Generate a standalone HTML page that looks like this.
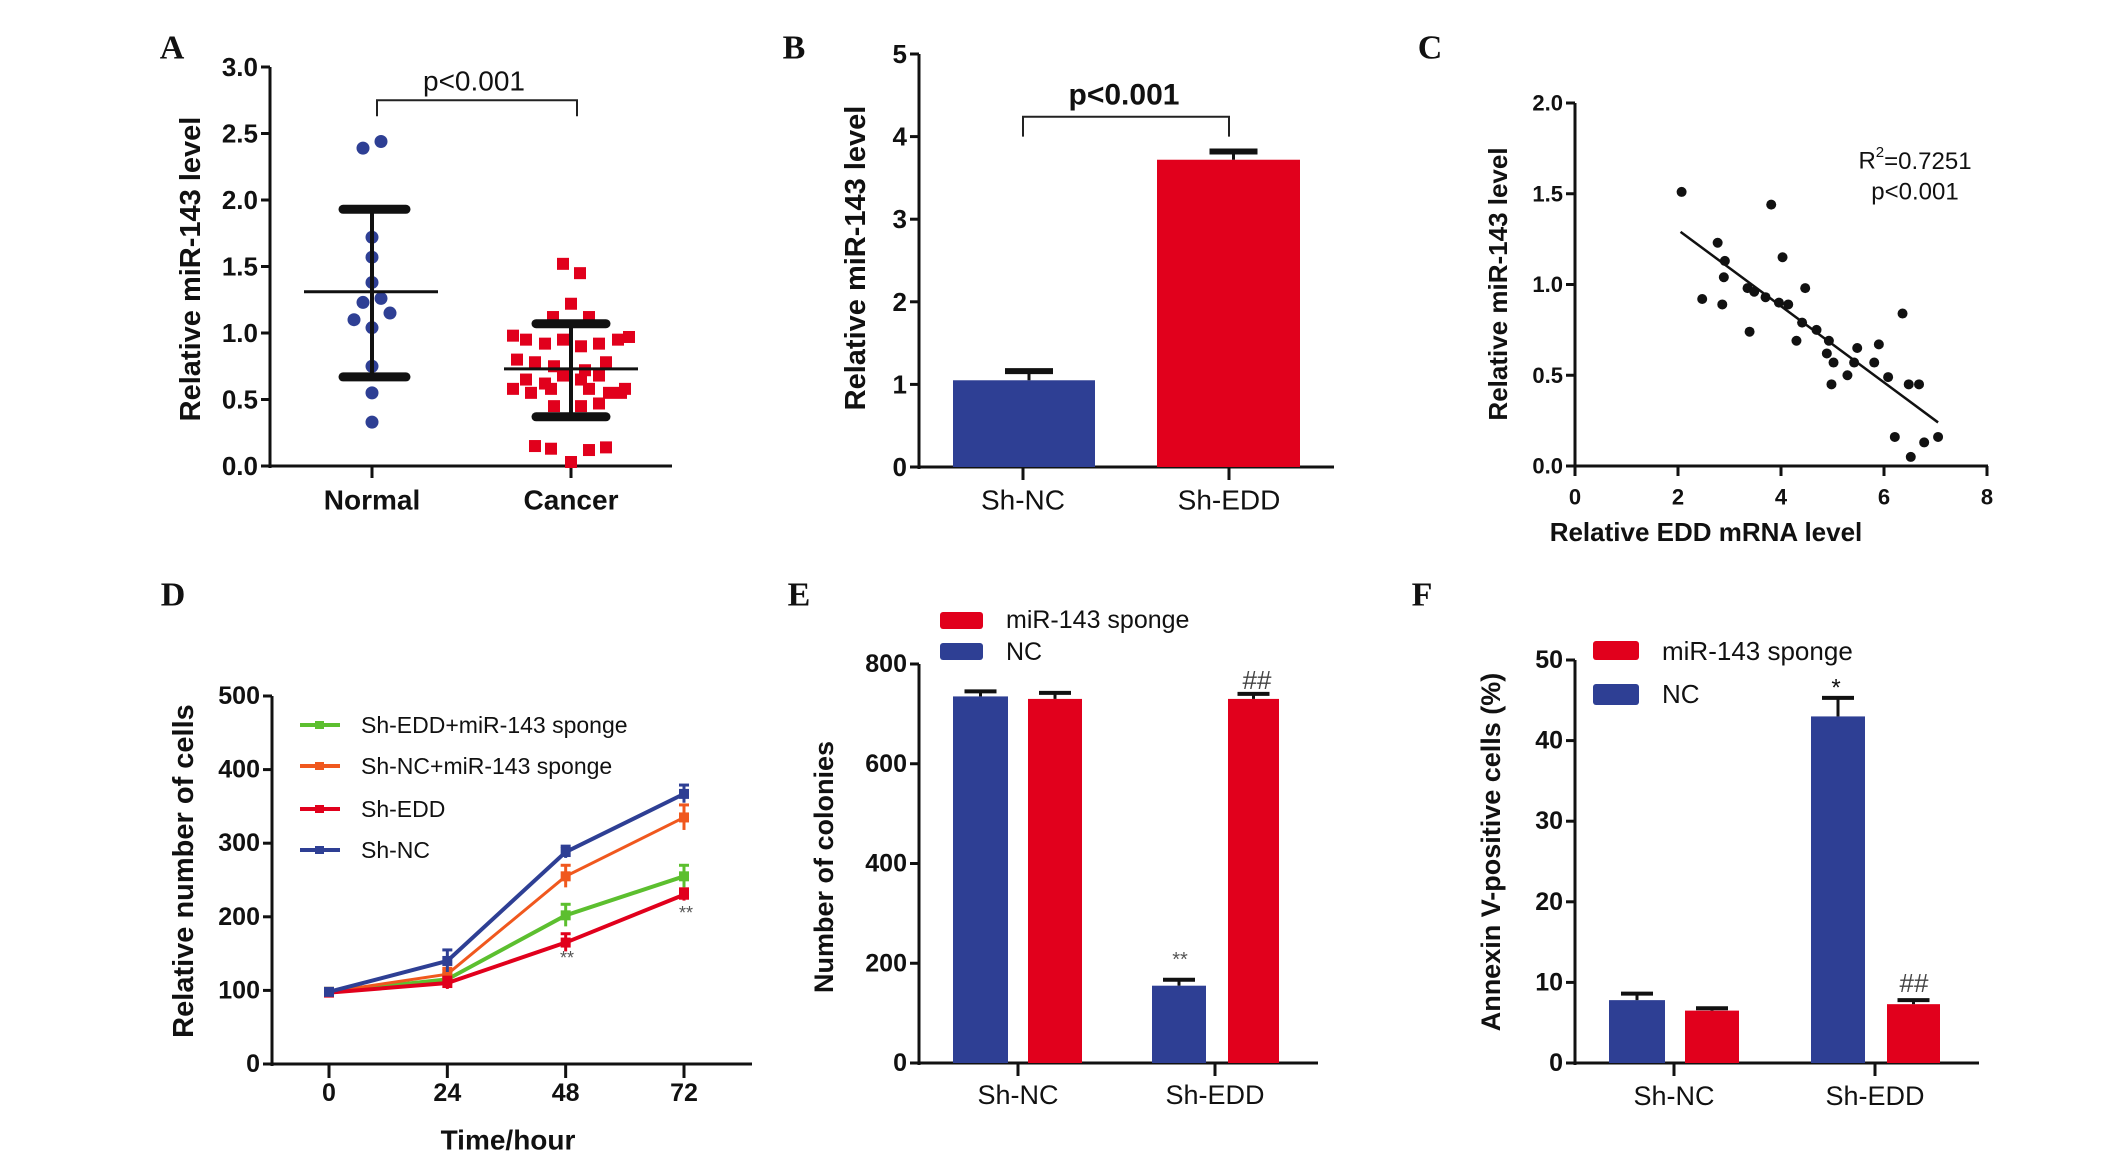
<!DOCTYPE html>
<html><head><meta charset="utf-8"><style>
html,body{margin:0;padding:0;background:#fff;}
svg{display:block;font-family:"Liberation Sans",sans-serif;}
</style></head><body>
<svg id="fig" width="2126" height="1167" viewBox="0 0 2126 1167"></svg>
<script>
// ---------- Panel A data ----------
const aNormal = [2.39,2.44,1.72,1.57,1.38,1.23,1.26,1.10,1.15,1.04,0.75,0.55,0.33];
const aNormalJit = [-9,9,0,0,0,-9,9,-18,18,0,0,0,0];
const aCancer = [1.52,1.45,1.22,1.12,1.12,0.98,0.95,0.92,0.95,0.90,0.92,0.95,0.97,0.80,0.78,0.75,0.72,0.78,0.65,0.62,0.68,0.65,0.68,0.58,0.55,0.58,0.58,0.55,0.58,0.45,0.45,0.47,0.15,0.13,0.03,0.12,0.14,0.55];
const aCancerJit = [-8,9,0,-18,18,-58,-45,-26,-8,10,28,47,58,-54,-36,-17,14,35,-45,-26,-8,10,28,-58,-40,-20,18,38,54,-17,10,28,-36,-20,0,18,35,50];
const aStats = {normal:[1.31,0.67,1.93], cancer:[0.73,0.37,1.07]};
const aTicks = ["0.0","0.5","1.0","1.5","2.0","2.5","3.0"];
// ---------- Panel B data ----------
const bCats = ["Sh-NC","Sh-EDD"];
const bVals = [1.05,3.72];
const bErr = [0.11,0.1];
const bTicks = ["0","1","2","3","4","5"];
// ---------- Panel C data ----------
const cX = [2.07,2.77,2.91,2.89,2.47,2.86,3.39,3.81,4.03,4.47,3.35,3.48,3.70,3.96,4.14,4.41,4.30,4.69,4.93,4.89,5.02,4.98,5.29,5.42,5.48,5.81,5.90,6.08,6.36,6.48,6.68,6.21,6.52,6.78,7.05];
const cY = [1.51,1.23,1.13,1.04,0.92,0.89,0.74,1.44,1.15,0.98,0.98,0.96,0.93,0.90,0.89,0.79,0.69,0.75,0.69,0.62,0.57,0.45,0.50,0.57,0.65,0.57,0.67,0.49,0.84,0.45,0.45,0.16,0.05,0.13,0.16];
const cFitX = [2.05,7.05];
const cFitY = [1.29,0.24];
const cYTicks = ["0.0","0.5","1.0","1.5","2.0"];
const cXTicks = ["0","2","4","6","8"];
// ---------- Panel D data ----------
const dTimes = [0,24,48,72];
const dSeriesNames = ["Sh-EDD+miR-143 sponge","Sh-NC+miR-143 sponge","Sh-EDD","Sh-NC"];
const dGreen = [98,115,202,255];
const dOrange = [98,122,255,335];
const dRed = [97,110,165,230];
const dBlue = [98,140,288,367];
const dGreenErr = [3,8,15,15];
const dOrangeErr = [3,8,15,17];
const dRedErr = [3,8,12,8];
const dBlueErr = [3,15,8,12];
const dTicks = ["0","100","200","300","400","500"];
// ---------- Panel E data ----------
const eCats = ["Sh-NC","Sh-EDD"];
const eNC = [735,155];
const eSponge = [730,730];
const eNCErr = [10,12];
const eSpongeErr = [12,10];
const eTicks = ["0","200","400","600","800"];
// ---------- Panel F data ----------
const fCats = ["Sh-NC","Sh-EDD"];
const fNC = [7.8,43];
const fSponge = [6.5,7.3];
const fNCErr = [0.8,2.3];
const fSpongeErr = [0.3,0.5];
const fTicks = ["0","10","20","30","40","50"];

const BLUE="#2e3f94", RED="#e1001c", GREEN="#5cbf2f", ORANGE="#f0581e";
const svg=document.getElementById('fig');
const NS="http://www.w3.org/2000/svg";
function mk(tag, attrs, name, parent){
  const el=document.createElementNS(NS,tag);
  for(const k in attrs) el.setAttribute(k,attrs[k]);
  
  
  (parent||svg).appendChild(el);
  return el;
}
function txt(x,y,s,name,opt){
  opt=opt||{};
  const t=mk('text',{x:x,y:y,'font-size':opt.size||26,'font-weight':opt.weight||'bold','text-anchor':opt.anchor||'middle','dominant-baseline':'central',fill:opt.fill||'#111','font-family':opt.family||'"Liberation Sans",sans-serif'},name);
  if(opt.rot) t.setAttribute('transform','rotate(-90 '+x+' '+y+')');
  t.textContent=s; return t;
}
function line(x1,y1,x2,y2,name,w,c){return mk('line',{x1:x1,y1:y1,x2:x2,y2:y2,stroke:c||'#111','stroke-width':w||3},name);}
function lin(d0,d1,r0,r1){return v=>r0+(v-d0)*(r1-r0)/(d1-d0);}
function yAxis(x,y0,y1,ticks,scale,name,size){
  line(x,y0+2,x,y1,name+'-line',3);
  ticks.forEach(t=>{const y=scale(parseFloat(t));line(x-9,y,x,y,name+'-tick',3);txt(x-12,y,t,name+'-tick-label',{anchor:'end',size:size||26});});
}
function letter(x,y,s){txt(x,y,s,'panel-label-'+s.toLowerCase(),{size:34,family:'"Liberation Serif",serif'});}

// ===== Panel A =====
letter(172,48,"A");
{
 const ys=lin(0,3,466,67);
 yAxis(270,466,67,aTicks,ys,'a-y-axis',26);
 line(268,466,672,466,'a-x-axis',3);
 const cx=[372,571];
 ["Normal","Cancer"].forEach((c,i)=>{line(cx[i],466,cx[i],478,'a-x-tick',3);txt(cx[i],500,c,'a-x-label',{size:28});});
 txt(191,269,"Relative miR-143  level",'a-y-axis-title',{rot:true,size:29});
 aNormal.forEach((v,i)=>{mk('circle',{cx:cx[0]+aNormalJit[i],cy:ys(v),r:6.5,fill:BLUE},'a-normal-point');});
 aCancer.forEach((v,i)=>{mk('rect',{x:cx[1]+aCancerJit[i]-6,y:ys(v)-6,width:12,height:12,fill:RED},'a-cancer-point');});
 [[aStats.normal,cx[0],304,438,343,406],[aStats.cancer,cx[1],504,638,536,606]].forEach(([s,x,m0,m1,c0,c1],i)=>{
   line(m0,ys(s[0]),m1,ys(s[0]),'a-mean-line',3);
   line(x,ys(s[1]),x,ys(s[2]),'a-sd-bar',4);
   mk('line',{x1:c0,y1:ys(s[1]),x2:c1,y2:ys(s[1]),stroke:'#111','stroke-width':9,'stroke-linecap':'round'},'a-sd-cap');
   mk('line',{x1:c0,y1:ys(s[2]),x2:c1,y2:ys(s[2]),stroke:'#111','stroke-width':9,'stroke-linecap':'round'},'a-sd-cap');
 });
 mk('path',{d:`M377 ${ys(2.63)} V${ys(2.75)} H577 V${ys(2.63)}`,fill:'none',stroke:'#222','stroke-width':2},'a-significance-bracket');
 txt(474,81,"p<0.001",'a-p-value',{weight:'normal',size:28});
}

// ===== Panel B =====
letter(794,48,"B");
{
 const ys=lin(0,5,467,54);
 yAxis(919,467,54,bTicks,ys,'b-y-axis',26);
 line(917,467,1334,467,'b-x-axis',3);
 const bx=[[953,1095],[1157,1300]], col=[BLUE,RED];
 bVals.forEach((v,i)=>{
   mk('rect',{x:bx[i][0],y:ys(v),width:bx[i][1]-bx[i][0],height:467-ys(v),fill:col[i]},'b-bar-'+bCats[i].toLowerCase());
   const c=(bx[i][0]+bx[i][1])/2+5;
   line(c,ys(v),c,ys(v+bErr[i]),'b-error-bar',3);
   line(c-24,ys(v+bErr[i]),c+24,ys(v+bErr[i]),'b-error-cap',6);
 });
 [1023,1229].forEach((x,i)=>{line(x,467,x,480,'b-x-tick',3);txt(x,500,bCats[i],'b-x-label',{size:28,weight:'normal'});});
 txt(856,258,"Relative miR-143  level",'b-y-axis-title',{rot:true,size:29});
 mk('path',{d:`M1023 ${ys(4.0)} V${ys(4.24)} H1229 V${ys(4.0)}`,fill:'none',stroke:'#222','stroke-width':2},'b-significance-bracket');
 txt(1124,95,"p<0.001",'b-p-value',{size:30});
}

// ===== Panel C =====
letter(1430,48,"C");
{
 const ys=lin(0,2,466,103), xs=lin(0,8,1575,1987);
 yAxis(1575,466,103,cYTicks,ys,'c-y-axis',22);
 line(1573,466,1988,466,'c-x-axis',3);
 cXTicks.forEach(t=>{const x=xs(parseFloat(t));line(x,466,x,476,'c-x-tick',3);txt(x,497,t,'c-x-tick-label',{size:22});});
 txt(1706,532,"Relative EDD mRNA level",'c-x-axis-title',{size:26});
 txt(1498,284,"Relative miR-143  level",'c-y-axis-title',{rot:true,size:26});
 cX.forEach((v,i)=>{mk('circle',{cx:xs(v),cy:ys(cY[i]),r:5,fill:'#111'},'c-point');});
 mk('line',{x1:xs(cFitX[0]),y1:ys(cFitY[0]),x2:xs(cFitX[1]),y2:ys(cFitY[1]),stroke:'#111','stroke-width':2.5},'c-regression-line');
 const r=txt(1915,161,"",'c-r-squared',{weight:'normal',size:24});
 r.innerHTML='R<tspan dy="-9" font-size="15">2</tspan><tspan dy="9">=0.7251</tspan>';
 txt(1915,192,"p<0.001",'c-p-value',{weight:'normal',size:24});
}

// ===== Panel D =====
letter(173,595,"D");
{
 const ys=lin(0,500,1064,696), xs=lin(0,72,329,684);
 yAxis(272,1064,696,dTicks,ys,'d-y-axis',25);
 line(270,1064,752,1064,'d-x-axis',3);
 dTimes.forEach(t=>{const x=xs(t);line(x,1064,x,1078,'d-x-tick',3);txt(x,1093,String(t),'d-x-tick-label',{size:25});});
 txt(508,1140,"Time/hour",'d-x-axis-title',{size:28});
 txt(184,871,"Relative number of cells",'d-y-axis-title',{rot:true,size:29});
 const series=[[dGreen,dGreenErr,GREEN,'green'],[dOrange,dOrangeErr,ORANGE,'orange'],[dRed,dRedErr,RED,'red'],[dBlue,dBlueErr,BLUE,'blue']];
 series.forEach(([vals,err,col,nm],si)=>{
   mk('polyline',{points:vals.map((v,i)=>xs(dTimes[i])+','+ys(v)).join(' '),fill:'none',stroke:col,'stroke-width':si==1?3:4},'d-line-'+nm);
   vals.forEach((v,i)=>{
     const x=xs(dTimes[i]);
     line(x,ys(v-err[i]),x,ys(v+err[i]),'d-error-bar',3,col);
     line(x-5,ys(v+err[i]),x+5,ys(v+err[i]),'d-error-cap',3,col);
     mk('rect',{x:x-5,y:ys(v)-5,width:10,height:10,fill:col},'d-marker-'+nm);
   });
   const ly=[725,766,809,850][si];
   line(300,ly,340,ly,'d-legend-line',4,col);
   mk('rect',{x:315,y:ly-4,width:9,height:8,fill:col},'d-legend-marker');
   txt(361,ly,dSeriesNames[si],'d-legend-label',{anchor:'start',weight:'normal',size:23});
 });
 txt(567,958,"**",'d-significance-48',{size:18,weight:'normal',fill:'#555'});
 txt(686,913,"**",'d-significance-72',{size:18,weight:'normal',fill:'#555'});
}

// ===== Grouped bars helper =====
function grouped(p,ys,y0,bars,vals,errs,cols){
 vals.forEach((v,i)=>{
   const [x0,x1]=bars[i];
   mk('rect',{x:x0,y:ys(v),width:x1-x0,height:y0-ys(v),fill:cols[i]},p+'-bar');
   const c=(x0+x1)/2;
   line(c,ys(v),c,ys(v+errs[i]),p+'-error-bar',3);
   line(c-16,ys(v+errs[i]),c+16,ys(v+errs[i]),p+'-error-cap',4);
 });
}

// ===== Panel E =====
letter(799,595,"E");
{
 const ys=lin(0,800,1063,664);
 yAxis(919,1063,664,eTicks,ys,'e-y-axis',25);
 line(917,1063,1318,1063,'e-x-axis',3);
 grouped('e',ys,1063,[[953,1008],[1028,1082],[1152,1206],[1228,1279]],[eNC[0],eSponge[0],eNC[1],eSponge[1]],[eNCErr[0],eSpongeErr[0],eNCErr[1],eSpongeErr[1]],[BLUE,RED,BLUE,RED]);
 [1018,1215].forEach((x,i)=>{line(x,1063,x,1076,'e-x-tick',3);txt(x,1095,eCats[i],'e-x-label',{size:27,weight:'normal'});});
 txt(824,867,"Number of colonies",'e-y-axis-title',{rot:true,size:27});
 mk('rect',{x:940,y:612,width:43,height:17,rx:3,fill:RED},'e-legend-swatch-sponge');
 txt(1006,620,"miR-143 sponge",'e-legend-label-sponge',{anchor:'start',weight:'normal',size:25});
 mk('rect',{x:940,y:643,width:43,height:17,rx:3,fill:BLUE},'e-legend-swatch-nc');
 txt(1006,652,"NC",'e-legend-label-nc',{anchor:'start',weight:'normal',size:25});
 txt(1180,960,"**",'e-significance-nc',{size:20,weight:'normal',fill:'#555'});
 txt(1257,680,"##",'e-significance-sponge',{size:26,weight:'normal',fill:'#444'});
}

// ===== Panel F =====
letter(1422,595,"F");
{
 const ys=lin(0,50,1063,660);
 yAxis(1575,1063,660,fTicks,ys,'f-y-axis',25);
 line(1573,1063,1979,1063,'f-x-axis',3);
 grouped('f',ys,1063,[[1609,1665],[1685,1739],[1811,1865],[1887,1940]],[fNC[0],fSponge[0],fNC[1],fSponge[1]],[fNCErr[0],fSpongeErr[0],fNCErr[1],fSpongeErr[1]],[BLUE,RED,BLUE,RED]);
 [1674,1875].forEach((x,i)=>{line(x,1063,x,1076,'f-x-tick',3);txt(x,1096,fCats[i],'f-x-label',{size:27,weight:'normal'});});
 txt(1491,852,"Annexin V-positive cells (%)",'f-y-axis-title',{rot:true,size:27});
 mk('rect',{x:1593,y:641,width:46,height:19,rx:3,fill:RED},'f-legend-swatch-sponge');
 txt(1662,651,"miR-143 sponge",'f-legend-label-sponge',{anchor:'start',weight:'normal',size:26});
 mk('rect',{x:1593,y:684,width:46,height:21,rx:3,fill:BLUE},'f-legend-swatch-nc');
 txt(1662,694,"NC",'f-legend-label-nc',{anchor:'start',weight:'normal',size:26});
 txt(1836,688,"*",'f-significance-nc',{size:24,weight:'normal'});
 txt(1914,983,"##",'f-significance-sponge',{size:26,weight:'normal',fill:'#444'});
}
</script>
</body></html>
